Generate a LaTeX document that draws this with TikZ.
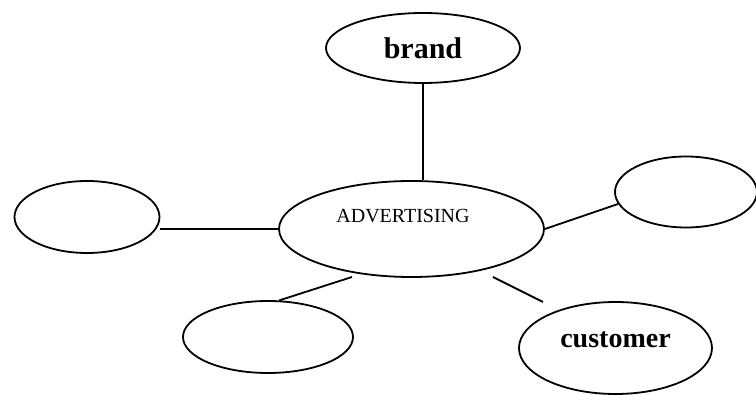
\documentclass[tikz,border=0pt]{standalone}
\usepackage{fontspec}
\setmainfont{Liberation Serif}
\tikzset{
  bubble/.style={draw,ellipse,line width=0.9pt,inner sep=0pt},
  link/.style={line width=0.9pt}
}
\usetikzlibrary{shapes.geometric}

\begin{document}
\begin{tikzpicture}
      \useasboundingbox (-205.75pt,114.5pt) rectangle (172.25pt,-83pt);
      \node [bubble,minimum width=132.5pt,minimum height=48pt,
             label={[font=\fontsize{10}{12}\selectfont,xshift=-4.25pt,yshift=6.5pt]center:ADVERTISING}] (adv) {};
      \node [bubble,minimum width=97pt,minimum height=35pt,above of=adv,node distance=90.5pt,xshift=5.75pt,
             font=\fontsize{15}{18}\selectfont\bfseries] (brand) {brand};
      \node [bubble,minimum width=72.5pt,minimum height=36pt,left of=adv,node distance=162.25pt,yshift=6pt] (left) {};
      \node [bubble,minimum width=71pt,minimum height=35.5pt,right of=adv,node distance=137.25pt,yshift=18.5pt] (right) {};
      \node [bubble,minimum width=85pt,minimum height=36pt,below of=adv,node distance=54pt,xshift=-71.75pt] (low) {};
      \node [bubble,minimum width=96.5pt,minimum height=46pt,below of=adv,node distance=59.5pt,xshift=102pt,
             label={[font=\fontsize{14}{17}\selectfont\bfseries,yshift=4pt]center:customer}] (customer) {};

      \coordinate (lowtip) at ([shift={(-29.75pt,-24pt)}]adv.center);
      \coordinate (custtip1) at ([shift={(40.75pt,-24pt)}]adv.center);
      \coordinate (custtip2) at ([shift={(65.75pt,-36.5pt)}]adv.center);

      \draw[link] (brand.south) -- (brand.south |- adv.north);
      \draw[link] (adv.west) -- (adv.west -| left.east);
      \draw[link] (adv.east) -- (right.190);
      \draw[link] (low.73) -- (lowtip);
      \draw[link] (custtip1) -- (custtip2);
    \end{tikzpicture}
\end{document}
